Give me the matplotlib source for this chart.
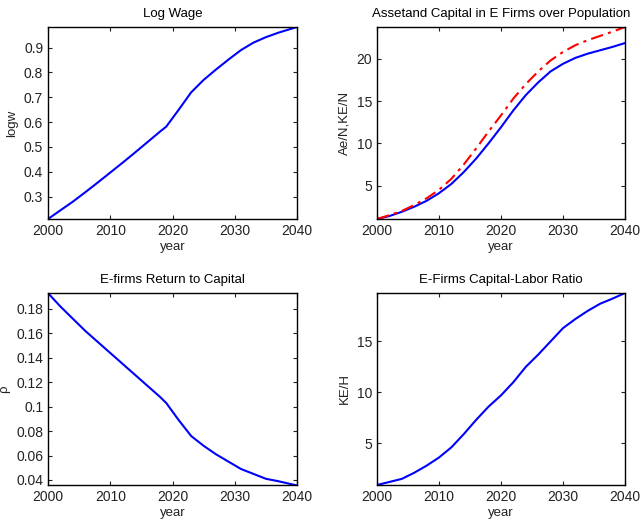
import numpy as np
import matplotlib
matplotlib.use("Agg")
import matplotlib.pyplot as plt

plt.rcParams['font.family'] = ['Liberation Sans', 'DejaVu Sans']
plt.rcParams['font.size'] = 9.5

# log wage
yr_w = [2000, 2002, 2004, 2006, 2008, 2010, 2012, 2014, 2016, 2018, 2019,
        2021, 2023, 2025, 2027, 2029, 2031, 2033, 2035, 2037, 2040]
logw = [0.210, 0.245, 0.280, 0.318, 0.357, 0.397, 0.437, 0.478, 0.520, 0.562, 0.582,
        0.650, 0.720, 0.770, 0.812, 0.852, 0.890, 0.920, 0.942, 0.960, 0.983]

# assets and capital over population
yr_a = [2000, 2002, 2004, 2006, 2008, 2010, 2012, 2014, 2016, 2018, 2020,
        2022, 2024, 2026, 2028, 2030, 2032, 2034, 2036, 2038, 2040]
ke_n = [1.05, 1.4, 1.9, 2.5, 3.2, 4.1, 5.2, 6.6, 8.2, 10.0, 11.9,
        13.9, 15.7, 17.2, 18.5, 19.4, 20.1, 20.6, 21.0, 21.4, 21.85]
ae_n = [1.05, 1.5, 2.0, 2.7, 3.5, 4.5, 5.8, 7.5, 9.4, 11.4, 13.3,
        15.3, 17.0, 18.5, 19.8, 20.8, 21.6, 22.2, 22.7, 23.2, 23.75]

# return to capital
yr_r = [2000, 2002, 2004, 2006, 2008, 2010, 2012, 2014, 2016, 2018, 2019,
        2021, 2023, 2025, 2027, 2029, 2031, 2033, 2035, 2037, 2040]
rho = [0.193, 0.182, 0.172, 0.162, 0.153, 0.144, 0.135, 0.126, 0.117, 0.108, 0.103,
       0.089, 0.076, 0.068, 0.061, 0.055, 0.049, 0.045, 0.041, 0.039, 0.0355]

# capital-labor ratio
yr_k = [2000, 2002, 2004, 2006, 2008, 2010, 2012, 2014, 2016, 2018, 2020,
        2022, 2024, 2026, 2028, 2030, 2032, 2034, 2036, 2038, 2040]
ke_h = [0.9, 1.2, 1.5, 2.1, 2.8, 3.6, 4.6, 5.9, 7.3, 8.6, 9.7,
        11.0, 12.5, 13.7, 15.0, 16.3, 17.2, 18.0, 18.7, 19.2, 19.75]

fig = plt.figure(figsize=(6.43, 5.19), dpi=100)
W, H = 643, 519

def make_ax(x0, y0, x1, y1):
    ax = fig.add_axes([x0 / W, 1 - y1 / H, (x1 - x0) / W, (y1 - y0) / H])
    ax.tick_params(direction='in', top=True, right=True, length=3, width=0.8,
                   labelsize=10, colors='#222222')
    for s in ax.spines.values():
        s.set_linewidth(1.0)
    ax.set_xlim(2000, 2040)
    ax.set_xticks([2000, 2010, 2020, 2030, 2040])
    ax.set_xlabel('year', labelpad=2, color='#222222')
    return ax

ax1 = make_ax(48, 27, 297, 219)
ax1.plot(yr_w, logw, color='#0000ff', lw=1.5)
ax1.set_ylim(0.21, 0.983)
ax1.set_yticks([0.3, 0.4, 0.5, 0.6, 0.7, 0.8, 0.9])
ax1.set_ylabel('logw', color='#222222')
ax1.set_title('Log Wage', fontsize=9.5, pad=7)

ax2 = make_ax(377, 27, 625, 219)
ax2.plot(yr_a, ke_n, color='#0000ff', lw=1.5)
ax2.plot(yr_a, ae_n, color='#ff0000', lw=1.5, ls=(0, (6, 2.5, 1.5, 2.5)))
ax2.set_ylim(1.05, 23.75)
ax2.set_yticks([5, 10, 15, 20])
ax2.set_ylabel('Ae/N,KE/N', color='#222222')
ax2.set_title('Assetand Capital in E Firms over Population', fontsize=9.5, pad=7)

ax3 = make_ax(48, 293, 297, 485)
ax3.plot(yr_r, rho, color='#0000ff', lw=1.5)
ax3.set_ylim(0.0359, 0.1931)
ax3.set_yticks([0.04, 0.06, 0.08, 0.1, 0.12, 0.14, 0.16, 0.18])
ax3.set_yticklabels(['0.04', '0.06', '0.08', '0.1', '0.12', '0.14', '0.16', '0.18'])
ax3.set_ylabel('ρ', color='#222222')
ax3.set_title('E-firms Return to Capital', fontsize=9.5, pad=7)

ax4 = make_ax(377, 293, 625, 485)
ax4.plot(yr_k, ke_h, color='#0000ff', lw=1.5)
ax4.set_ylim(0.9, 19.75)
ax4.set_yticks([5, 10, 15])
ax4.set_ylabel('KE/H', color='#222222')
ax4.set_title('E-Firms Capital-Labor Ratio', fontsize=9.5, pad=7)

fig.savefig('out.png', dpi=100)
